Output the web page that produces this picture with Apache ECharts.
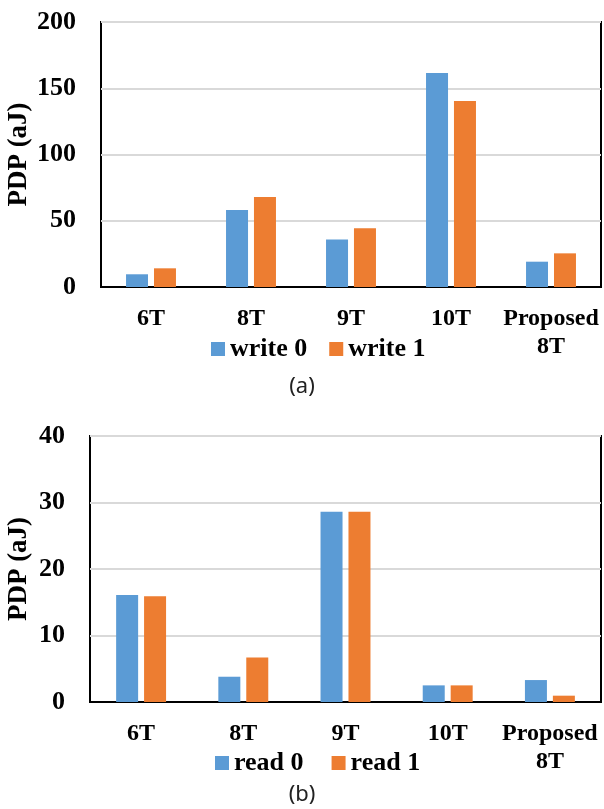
<!DOCTYPE html>
<html lang="en">
<head>
    <meta charset="UTF-8">
    <title>PDP</title>
    <script src="https://cdn.jsdelivr.net/npm/echarts@6/dist/echarts.min.js"></script>
    <style>
        html, body { margin: 0; padding: 0; background: #fff; }
    </style>
</head>
<body>
<div id="main" style="width: 604px;height:809px;"></div>
<script>
    // data
    var categories = ['6T', '8T', '9T', '10T', 'Proposed\n8T'];
    var write0 = [9.6, 58.2, 35.8, 161.5, 19.1];
    var write1 = [14.1, 68, 44.3, 140.3, 25.4];
    var read0 = [16.1, 3.8, 28.6, 2.5, 3.3];
    var read1 = [15.9, 6.7, 28.6, 2.5, 0.95];

    var blue = '#5B9BD5';
    var orange = '#ED7D31';
    var serif = 'Liberation Serif';

    var mychart = echarts.init(document.getElementById('main'));

    function xAxis(gridIndex) {
        return {
            type: 'category',
            gridIndex: gridIndex,
            data: categories,
            axisTick: {show: false},
            axisLine: {lineStyle: {color: '#000', width: 2}},
            axisLabel: {
                interval: 0,
                margin: 18,
                color: '#000',
                fontFamily: serif,
                fontWeight: 'bold',
                fontSize: 24,
                lineHeight: 28
            }
        };
    }

    function yAxis(gridIndex, max, step, gap) {
        return {
            type: 'value',
            gridIndex: gridIndex,
            min: 0,
            max: max,
            interval: step,
            name: 'PDP (aJ)',
            nameLocation: 'middle',
            nameGap: gap,
            nameMoveOverlap: false,
            nameTextStyle: {
                color: '#000',
                fontFamily: serif,
                fontWeight: 'bold',
                fontSize: 27
            },
            axisLine: {show: false},
            axisTick: {show: false},
            splitLine: {lineStyle: {color: '#d9d9d9', width: 2}},
            axisLabel: {
                margin: 25,
                color: '#000',
                fontFamily: serif,
                fontWeight: 'bold',
                fontSize: 26
            }
        };
    }

    function bar(name, data, color, idx) {
        return {
            name: name,
            type: 'bar',
            xAxisIndex: idx,
            yAxisIndex: idx,
            data: data,
            barWidth: 22,
            barGap: '27%',
            itemStyle: {color: color}
        };
    }

    var legendText = {
        color: '#000',
        fontFamily: serif,
        fontWeight: 'bold',
        fontSize: 26
    };

    var option = {
        animation: false,
        grid: [
            {left: 101, top: 22, width: 500, height: 265, outerBoundsMode: 'none', show: true, borderColor: '#000', borderWidth: 2},
            {left: 90, top: 436, width: 511, height: 266, outerBoundsMode: 'none', show: true, borderColor: '#000', borderWidth: 2}
        ],
        xAxis: [xAxis(0), xAxis(1)],
        yAxis: [yAxis(0, 200, 50, 68), yAxis(1, 40, 10, 57)],
        legend: [
            {
                data: ['write 0', 'write 1'],
                left: 206, top: 331,
                icon: 'rect', itemWidth: 14, itemHeight: 14, itemGap: 22,
                textStyle: legendText
            },
            {
                data: ['read 0', 'read 1'],
                left: 210, top: 745,
                icon: 'rect', itemWidth: 14, itemHeight: 14, itemGap: 28,
                textStyle: legendText
            }
        ],
        graphic: [
            {type: 'text', left: 'center', top: 376, style: {text: '(a)', fontFamily: 'Noto Sans', fontSize: 22, fill: '#222'}},
            {type: 'text', left: 'center', top: 784, style: {text: '(b)', fontFamily: 'Noto Sans', fontSize: 22, fill: '#222'}}
        ],
        series: [
            bar('write 0', write0, blue, 0),
            bar('write 1', write1, orange, 0),
            bar('read 0', read0, blue, 1),
            bar('read 1', read1, orange, 1)
        ]
    };
    mychart.setOption(option);
</script>
</body>
</html>
